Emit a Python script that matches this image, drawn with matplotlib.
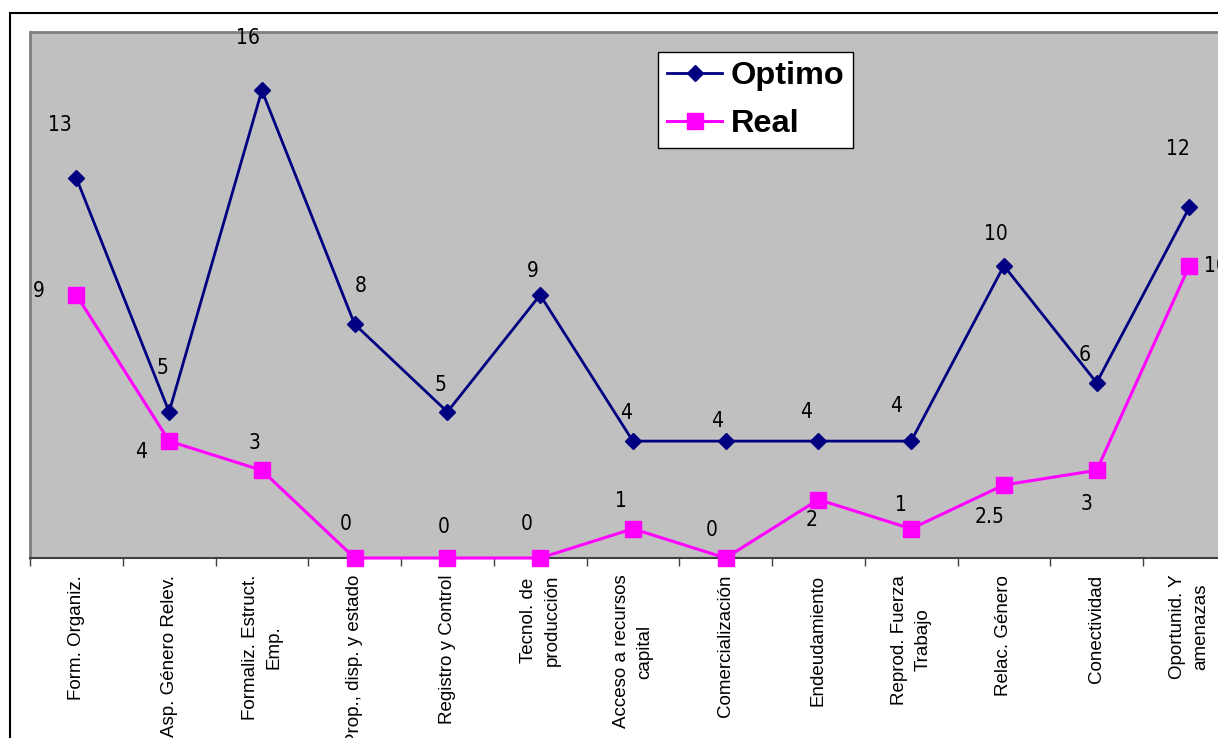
import matplotlib
matplotlib.use("Agg")
import matplotlib.pyplot as plt
from matplotlib.patches import Rectangle
from matplotlib import font_manager

categories = ["Form. Organiz.", "Asp. Género Relev.", "Formaliz. Estruct.\nEmp.",
              "Prop., disp. y estado", "Registro y Control", "Tecnol. de\nproducción",
              "Acceso a recursos\ncapital", "Comercialización", "Endeudamiento",
              "Reprod. Fuerza\nTrabajo", "Relac. Género", "Conectividad",
              "Oportunid. Y\namenazas"]
optimo = [13, 5, 16, 8, 5, 9, 4, 4, 4, 4, 10, 6, 12]
real = [9, 4, 3, 0, 0, 0, 1, 0, 2, 1, 2.5, 3, 10]

# label offsets in pixels (dx, dy) relative to each point
opt_off = [(-16, 53), (-7, 44), (-14, 52), (6, 38), (-7, 27), (-7, 24), (-7, 28),
           (-9, 20), (-12, 29), (-15, 35), (-8, 32), (-12, 28), (-11, 58)]
real_off = [(-38, 4), (-28, -11), (-7, 27), (-9, 34), (-4, 31), (-13, 34), (-12, 28),
            (-14, 28), (-7, -20), (-10, 24), (-14, -32), (-10, -34), (26, 0)]

avail = {f.name for f in font_manager.fontManager.ttflist}
narrow = [n for n in ["Liberation Sans Narrow", "DejaVu Sans Condensed"] if n in avail]
lab_family = narrow + ["DejaVu Sans"]

W, H = 1218, 738
fig = plt.figure(figsize=(W / 100, H / 100), dpi=100)
fig.patch.set_facecolor("white")

# outer chart border
fig.patches.append(Rectangle((10 / W, -0.1), 1.2, 1 - 12.7 / H + 0.1,
                             transform=fig.transFigure, fill=False,
                             edgecolor="black", linewidth=1.5, zorder=0))

ax = fig.add_axes([30 / W, 1 - 558 / H, 13 * 92.75 / W, 526 / H])
ax.set_facecolor("#C0C0C0")
x = list(range(len(categories)))

ax.plot(x, optimo, color="#000080", linewidth=2, marker="D", markersize=8.3,
        markerfacecolor="#000080", markeredgecolor="#000080", label="Optimo",
        clip_on=False, zorder=3)
ax.plot(x, real, color="#FF00FF", linewidth=2.2, marker="s", markersize=11,
        markerfacecolor="#FF00FF", markeredgecolor="#FF00FF", label="Real",
        clip_on=False, zorder=4)

def fmt(v):
    return str(int(v)) if float(v).is_integer() else str(v)

for series, offs in ((optimo, opt_off), (real, real_off)):
    for xi, v, (dx, dy) in zip(x, series, offs):
        ax.annotate(fmt(v), (xi, v), xytext=(dx, dy), textcoords="offset pixels",
                    ha="center", va="center", fontsize=15, family=lab_family,
                    fontstretch="condensed", color="black", annotation_clip=False)

ax.set_xlim(-0.5, len(categories) - 0.5)
ax.set_ylim(0, 18)
ax.set_yticks([])
ax.set_xticks(x)
ax.set_xticklabels(categories, rotation=90, ha="center", va="top",
                   fontsize=13.5, family=["Liberation Sans", "DejaVu Sans"],
                   multialignment="center", linespacing=1.5)
ax.set_xticks([i - 0.5 for i in x] + [len(categories) - 0.5], minor=True)
ax.tick_params(axis="x", which="major", length=0, pad=12)
ax.tick_params(axis="x", which="minor", length=6, width=1, color="#404040",
               direction="out")

for s in ["top", "left"]:
    ax.spines[s].set_color("#808080")
    ax.spines[s].set_linewidth(2)
ax.spines["right"].set_visible(False)
ax.spines["bottom"].set_color("#404040")
ax.spines["bottom"].set_linewidth(1.5)

leg = ax.legend(loc="upper left", bbox_to_anchor=(658 / W, 1 - 52 / H),
                bbox_transform=fig.transFigure, frameon=True, fancybox=False,
                shadow=False, prop={"family": ["Liberation Sans", "DejaVu Sans"],
                                    "weight": "bold", "size": 23.4},
                handlelength=1.7, handletextpad=0.25, borderpad=0.28,
                labelspacing=0.55, borderaxespad=0)
leg.get_frame().set_edgecolor("black")
leg.get_frame().set_linewidth(1)
leg.get_frame().set_facecolor("white")
leg.get_frame().set_alpha(1)

fig.savefig("out.png", dpi=100, facecolor="white")
